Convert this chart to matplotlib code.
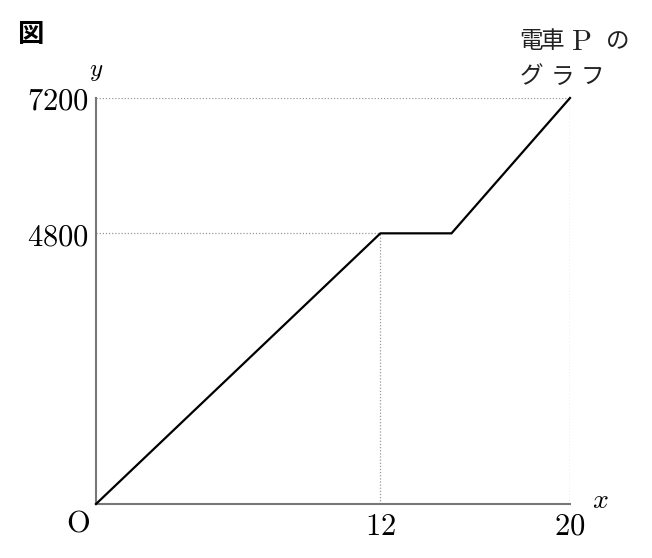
import matplotlib
matplotlib.use('Agg')
import matplotlib.pyplot as plt

plt.rcParams['mathtext.fontset'] = 'cm'
plt.rcParams['font.family'] = ['Noto Sans CJK JP', 'DejaVu Sans']

# train P: time (min) vs distance (m)
x_vals = [0, 12, 15, 20]
y_vals = [0, 4800, 4800, 7200]
x_ticks = [12, 20]
x_tick_labels = ['12', '20']
y_ticks = [4800, 7200]
y_tick_labels = ['4800', '7200']

W, H = 652, 558
fig = plt.figure(figsize=(W / 100, H / 100), dpi=100)
ax = fig.add_axes([96 / W, 1 - 504 / H, (570 - 96) / W, (504 - 98) / H])
ax.set_xlim(0, 20)
ax.set_ylim(0, 7200)

# dotted guide lines
guide = dict(color='#999999', linestyle=(0, (1, 1.5)), linewidth=0.9, zorder=1)
ax.plot([0, 12], [4800, 4800], **guide)
ax.plot([12, 12], [0, 4800], **guide)
ax.plot([0, 20], [7200, 7200], **guide)
ax.plot([20, 20], [0, 7200], **guide)

ax.plot(x_vals, y_vals, color='black', linewidth=1.6, zorder=3,
        solid_joinstyle='miter', clip_on=False)

for s in ['top', 'right']:
    ax.spines[s].set_visible(False)
for s in ['left', 'bottom']:
    ax.spines[s].set_color('#777777')
    ax.spines[s].set_linewidth(1.5)

ax.set_xticks(x_ticks)
ax.set_xticklabels(['$%s$' % t for t in x_tick_labels], fontsize=22)
ax.set_yticks(y_ticks)
ax.set_yticklabels(['$%s$' % t for t in y_tick_labels], fontsize=22)
ax.tick_params(axis='both', length=0)
ax.tick_params(axis='x', pad=5)
ax.tick_params(axis='y', pad=5)

ax.annotate(r'$\mathrm{O}$', xy=(0, 0), xytext=(-13, -14), textcoords='offset points',
            ha='center', va='center', fontsize=22)
ax.annotate('$x$', xy=(20, 0), xytext=(22, 3), textcoords='offset points',
            ha='center', va='center', fontsize=20)
ax.annotate('$y$', xy=(0, 7200), xytext=(0, 20), textcoords='offset points',
            ha='center', va='center', fontsize=18)

fig.text(30 / W, 1 - 35 / H, '図', fontsize=19, fontweight='bold',
         ha='center', va='center')

# series label, placed glyph by glyph to keep the wide spacing
label_chars = [('電', 531, 42), ('車', 553, 42), (r'$\mathrm{P}$', 581, 42), ('の', 618, 42),
               ('グ', 531, 77), ('ラ', 562, 77), ('フ', 592, 77)]
for ch, px, py in label_chars:
    fig.text(px / W, 1 - py / H, ch, fontsize=21 if ch.startswith('$') else 17,
             ha='center', va='center', color='#222222')

fig.savefig('out.png', dpi=100)
